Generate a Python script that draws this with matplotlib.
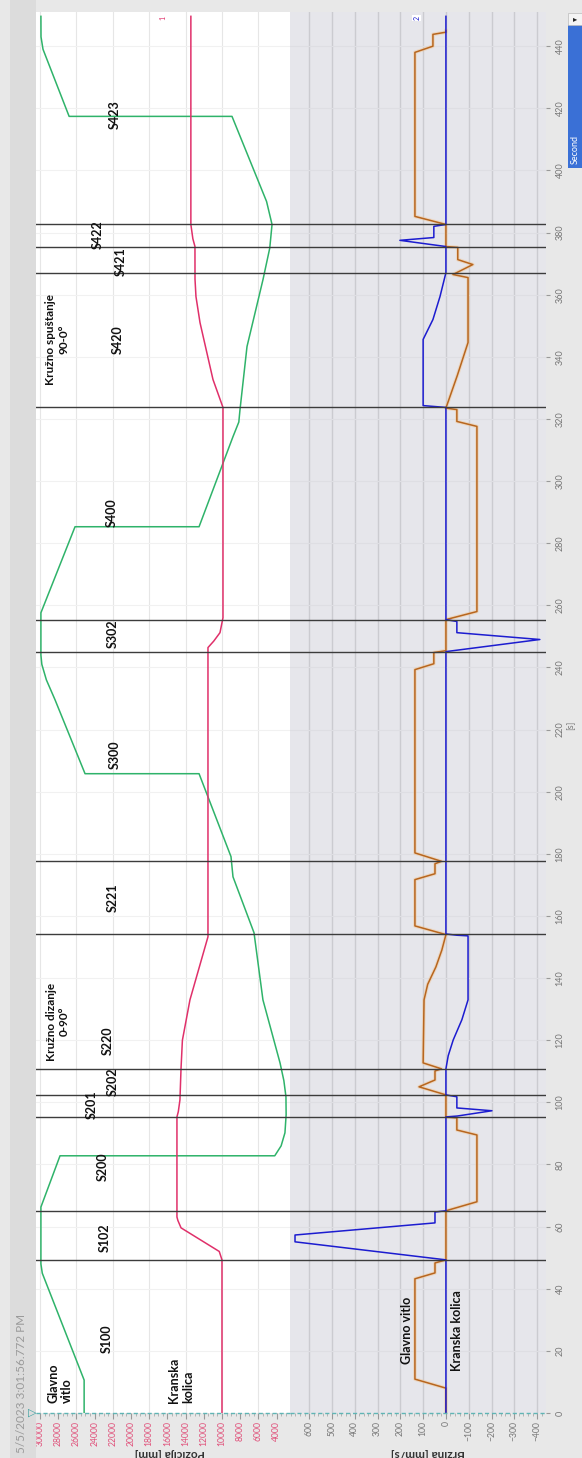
import matplotlib
matplotlib.use('Agg')

import matplotlib.pyplot as plt
from matplotlib.patches import Rectangle
from matplotlib.ticker import MultipleLocator
import numpy as np

plt.rcParams['font.family'] = ['Lato', 'DejaVu Sans']

# --- podaci ocitani sa snimka (vrijeme [s]) ---
# pozicija glavnog vitla [mm]
vitlo_poz_t = [0, 10.6, 42, 45, 48, 66.3, 82.8, 82.8, 86, 90.2, 96, 101.8, 107, 112.7, 133,
               154.6, 172.6, 179.1, 205.8, 205.8, 229.6, 236, 241, 244, 257.6, 285.3, 285.3,
               314.3, 319, 323, 343.3, 364.9, 375, 382.6, 390, 417.4, 417.4, 439, 443, 449.6]
vitlo_poz = [25150, 25150, 29350, 29750, 29900, 29900, 27800, 4200, 3500, 3080, 2950, 2970, 3200,
             3620, 5500, 6480, 8790, 9010, 12520, 25050, 28350, 29300, 29800, 29900, 29900, 26150,
             12520, 8790, 8150, 8020, 7250, 5490, 4750, 4500, 5100, 8900, 26800, 29670, 29890, 29900]

# pozicija kranskih kolica [mm]
kolica_poz_t = [0, 49.3, 52, 59.6, 62, 63.1, 95.3, 97, 100.8, 111, 120, 133, 153.3, 246.4, 248.5,
                251.2, 256, 323.7, 332.7, 351, 359.4, 365, 375.5, 378, 382.6, 449.6]
kolica_poz = [10000, 10000, 10300, 14500, 14850, 14950, 14950, 14800, 14620, 14500, 14350, 13520,
              11540, 11540, 10900, 10220, 9890, 9890, 10990, 12415, 12860, 12965, 12970, 13200,
              13420, 13420]

# brzina glavnog vitla [mm/s]
vitlo_brz_t = [0, 8, 10.9, 43.2, 45.1, 48.3, 49.3, 65.1, 68, 89.5, 91.1, 95, 95.3, 102.4, 105,
               107.2, 110.1, 110.8, 112.7, 133, 138, 143.6, 149, 154, 156.8, 171.7, 173.6, 176.8,
               177.6, 180.3, 239.3, 241.2, 244.8, 245.4, 255.4, 258, 317.6, 319.2, 323, 323.5,
               334, 344.6, 365.5, 366.5, 369.7, 371.3, 375.2, 375.5, 382.6, 385.2, 438, 440,
               443.8, 444.5, 445]
vitlo_brz = [0, 0, 136, 136, 48, 48, 0, 0, -136, -136, -48, -48, 0, 0, 118,
             48, 48, 20, 100, 96, 80, 44, 18, 0, 136, 136, 48, 48,
             20, 136, 136, 53, 53, 0, 0, -136, -136, -48, -48, 0,
             -50, -97, -97, -31, -118, -52, -52, 0, 0, 136, 136, 57,
             57, 0, 0]

# brzina kranskih kolica [mm/s]
kolica_brz_t = [0, 49.3, 55.1, 57.3, 61.2, 64.7, 65.1, 95.3, 95.6, 97.3, 98.2, 101.8, 102.4, 110.8,
                115, 120.1, 126.6, 133, 153.6, 153.8, 154.2, 245.1, 249, 251.2, 254.8, 255.4,
                323.7, 324.3, 345.6, 352, 359.4, 367.1, 375.5, 377.5, 378.4, 382, 382.6, 449.6]
kolica_brz = [0, 0, 662, 662, 48, 48, 0, 0, -50, -202, -48, -48, 0, 0,
              -10, -32, -70, -97, -97, -48, 0, 0, -412, -48, -48, 0,
              0, 100, 100, 57, 26, 0, 0, 202, 53, 53, 0, 0]

# vremena dogadaja (okomite linije)
dogadaji = [49.3, 65.1, 95.3, 102.4, 110.8, 154.3, 177.8, 245.1, 255.4, 323.7, 367.1, 375.5, 382.6]

# oznake koraka: tekst, vrijeme, pozicija [mm]
koraci = ['S100', 'S102', 'S200', 'S201', 'S202', 'S220', 'S221', 'S300', 'S302', 'S400',
          'S420', 'S421', 'S422', 'S423']
koraci_t = [24, 56.4, 79.3, 99.2, 106.6, 120, 165.8, 212, 251, 290, 345.6, 370.7, 379.4, 418]
koraci_poz = [22700, 22900, 23100, 24300, 22000, 22500, 22000, 21800, 22000, 22100, 21500, 21100,
              23600, 21800]

zelena = '#2fb36a'
roza = '#e0306a'
narancasta = '#b8661e'
plava = '#1c1cd0'

W, H = 582, 1458
fig = plt.figure(figsize=(W / 100, H / 100), dpi=100, facecolor='#e8e8e8')
fig.patches.append(Rectangle((10 / W, 0), 26 / W, 1, transform=fig.transFigure,
                             facecolor='#dcdcdc', edgecolor='none', zorder=0))

bot = (H - 1413) / H
hgt = 1401 / H
ax_poz = fig.add_axes([36 / W, bot, 254 / W, hgt], facecolor='white')
ax_brz = fig.add_axes([290 / W, bot, 256 / W, hgt], facecolor='#e6e6eb', sharey=ax_poz)

# --- pozicija ---
ax_poz.set_xlim(30440, 2525)
ax_poz.set_ylim(0, 451)
for v in range(6000, 30001, 4000):
    ax_poz.axvline(v, color='#e6e6e6', lw=0.8, zorder=0)
for t in range(20, 451, 20):
    ax_poz.axhline(t, color='#f1f1f1', lw=0.8, zorder=0)
ax_poz.plot(vitlo_poz, vitlo_poz_t, color=zelena, lw=1.1, zorder=3)
ax_poz.plot(kolica_poz, kolica_poz_t, color=roza, lw=1.1, zorder=3)
ax_poz.set_xticks(range(4000, 30001, 2000))
ax_poz.xaxis.set_minor_locator(MultipleLocator(500))
ax_poz.tick_params(axis='x', labelrotation=90, labelcolor='#e0507a', labelsize=6.2,
                   color='#999999', length=4, pad=1.5)
ax_poz.tick_params(axis='x', which='minor', color='#aaaaaa', length=2)
ax_poz.tick_params(axis='y', left=False, labelleft=False, right=False)
for s in ax_poz.spines.values():
    s.set_visible(False)

# --- brzina ---
ax_brz.set_xlim(684, -439)
for v in range(-400, 601, 100):
    ax_brz.axvline(v, color='#cbcbd0', lw=1.0, zorder=0)
for t in range(20, 451, 20):
    ax_brz.axhline(t, color='#dedee3', lw=0.8, zorder=0)
# blijeda sjena uz narancastu liniju
ax_brz.plot(vitlo_brz, vitlo_brz_t, color='#f0c89a', lw=2.6, alpha=0.5, zorder=2)
ax_brz.plot(vitlo_brz, vitlo_brz_t, color=narancasta, lw=1.1, zorder=3)
ax_brz.plot(kolica_brz, kolica_brz_t, color=plava, lw=1.1, zorder=3)
ax_brz.set_xticks(range(-400, 601, 100))
ax_brz.xaxis.set_minor_locator(MultipleLocator(20))
ax_brz.tick_params(axis='x', labelrotation=90, labelcolor='#777777', labelsize=6.2,
                   color='#999999', length=4, pad=1.5)
ax_brz.tick_params(axis='x', which='minor', color='#aaaaaa', length=2)
ax_brz.yaxis.tick_right()
ax_brz.set_yticks(range(0, 441, 20))
ax_brz.tick_params(axis='y', labelrotation=90, labelcolor='#777777', labelsize=6.5,
                   color='#999999', length=3, pad=4, left=False)
for lbl in ax_brz.get_yticklabels():
    lbl.set_va('center')
for s in ax_brz.spines.values():
    s.set_visible(False)

# linija t=0 i oznaka kursora
for ax in (ax_poz, ax_brz):
    ax.axhline(0, color='#5fb5b5', lw=1.0, ls=(0, (3, 2)), zorder=4, clip_on=False)
    for t in dogadaji:
        ax.axhline(t, color='#3c3c3c', lw=1.0, zorder=5)
fig.text(32 / W, 1 - 1413 / H, '▷', color='#3aa0a0', fontsize=8, ha='center', va='center',
         family=['DejaVu Sans'])

# oznake koraka
for txt, t, p in zip(koraci, koraci_t, koraci_poz):
    ax_poz.text(p, t, txt, rotation=90, ha='center', va='center', fontsize=9,
                fontweight='bold', color='#111111', zorder=6)
ax_poz.text(28000, 126, 'Kružno dizanje\n0-90°', rotation=90, ha='center', va='center',
            fontsize=8.5, fontweight='bold', color='#111111', multialignment='center', zorder=6)
ax_poz.text(28100, 345.6, 'Kružno spuštanje\n90-0°', rotation=90, ha='center', va='center',
            fontsize=8.5, fontweight='bold', color='#111111', multialignment='center', zorder=6)
ax_poz.text(27800, 3.2, 'Glavno\nvitlo', rotation=90, ha='center', va='bottom', fontsize=9,
            fontweight='bold', color='#111111', multialignment='left', zorder=6)
ax_poz.text(14500, 3.2, 'Kranska\nkolica', rotation=90, ha='center', va='bottom', fontsize=9,
            fontweight='bold', color='#111111', multialignment='left', zorder=6)
ax_brz.text(170, 26.5, 'Glavno vitlo', rotation=90, ha='center', va='center', fontsize=9,
            fontweight='bold', color='#111111', zorder=6)
ax_brz.text(-48, 26.5, 'Kranska kolica', rotation=90, ha='center', va='center', fontsize=9,
            fontweight='bold', color='#111111', zorder=6)

# brojevi tragova
ax_poz.text(16500, 449, '1', rotation=90, ha='center', va='center', fontsize=5, color=roza,
            zorder=6)
ax_brz.text(128, 449, '2', rotation=90, ha='center', va='center', fontsize=5, color=plava,
            zorder=6, bbox=dict(facecolor='white', edgecolor='none', pad=0.8))

# natpisi osi (donji dio odrezan rubom slike, kao u izvorniku)
fig.text(170 / W, 1 - 1454 / H, 'Pozicija [mm]', rotation=180, ha='center', va='center',
         fontsize=8.5, fontweight='bold', color='#333333')
fig.text(428 / W, 1 - 1454 / H, 'Brzina [mm/s]', rotation=180, ha='center', va='center',
         fontsize=8.5, fontweight='bold', color='#333333')
fig.text(571 / W, 1 - 725 / H, '[s]', rotation=90, ha='center', va='center',
         fontsize=6.5, color='#777777')
fig.text(22 / W, 1 - 1383 / H, '5/5/2023 3:01:56.772 PM', rotation=90, ha='center', va='center',
         fontsize=8.5, color='#9a9a9a')

# traka "Second"
fig.patches.append(Rectangle((568 / W, 1 - 168 / H), 14 / W, 143 / H, transform=fig.transFigure,
                             facecolor='#3a70d6', edgecolor='none'))
fig.patches.append(Rectangle((568 / W, 1 - 25 / H), 14 / W, 12 / H, transform=fig.transFigure,
                             facecolor='#f4f4f4', edgecolor='#bbbbbb', lw=0.5))
fig.text(575 / W, 1 - 19 / H, '▸', ha='center', va='center', fontsize=6, color='#222222',
         family=['DejaVu Sans'])
fig.text(575 / W, 1 - 150 / H, 'Second', rotation=90, ha='center', va='center',
         fontsize=6.5, color='white')

fig.savefig('out.png', dpi=100, facecolor=fig.get_facecolor())
